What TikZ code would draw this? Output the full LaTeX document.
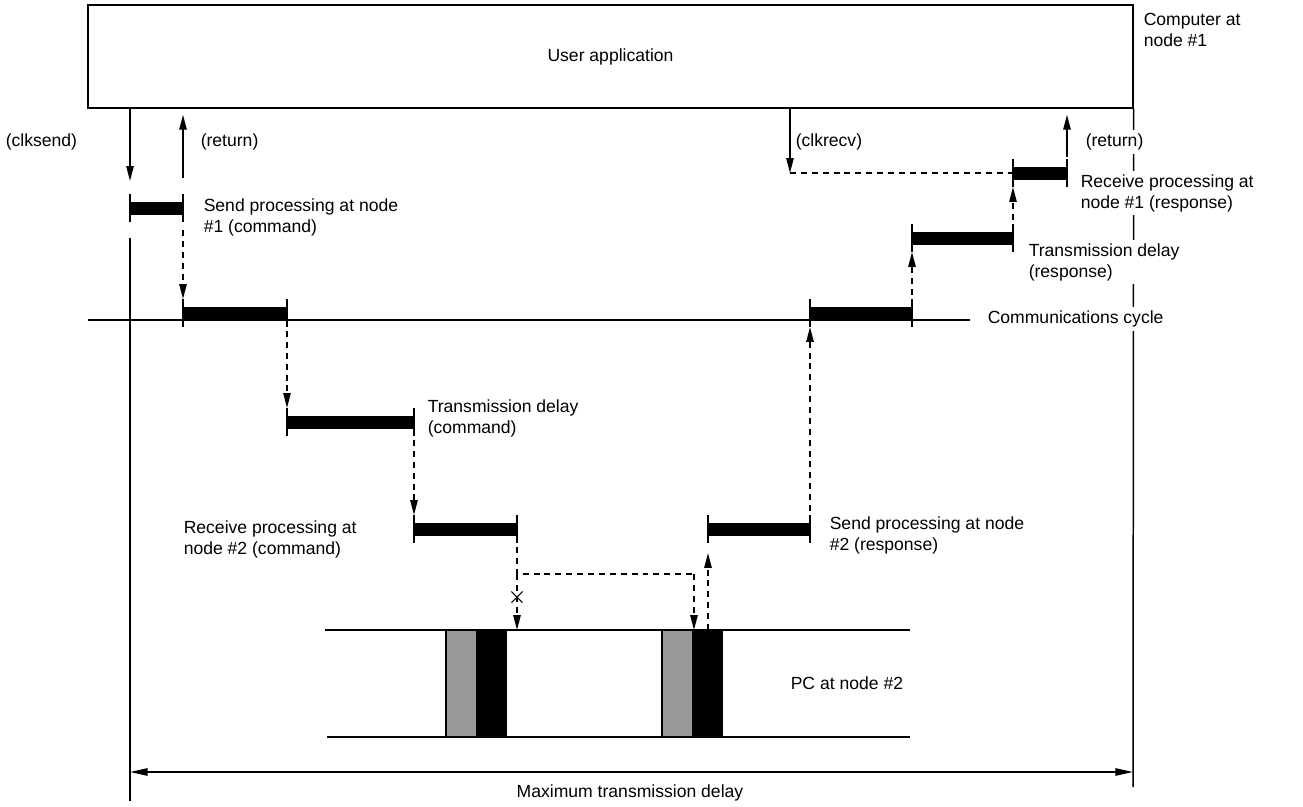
\documentclass[tikz,border=0pt]{standalone}
\usepackage{fontspec}
\setmainfont{Liberation Sans}
\usetikzlibrary{arrows.meta,calc,shapes.misc}
\tikzset{
  arr/.style={-{Triangle[length=8.5pt,width=4.2pt]}},
  dsh/.style={dash pattern=on 3.4pt off 2.8pt},
  lbl/.style={anchor=west,align=left,inner sep=2pt,fill=white},
  tick/.style={line width=0.7pt},
}
\begin{document}
\begin{tikzpicture}[x=0.02cm,y=-0.02cm,line width=0.85pt,font=\fontsize{10}{12}\selectfont]
  \useasboundingbox (0,0) rectangle (1303,806);
  \node[draw,minimum width=20.9cm,minimum height=2.06cm,inner sep=0pt] (app) at (610.5,56.5) {User application};
  \coordinate (lbot) at (130,801);
  \coordinate (rbot) at (1133,787);
  \coordinate (cL) at (88,320);
  \coordinate (cR) at (970,320);
  \coordinate (pcTL) at (325,630);
  \coordinate (pcTR) at (910,630);
  \coordinate (pcBL) at (327,737);
  \coordinate (pcBR) at (910,737);
  \coordinate (fork) at (517,574);
  \coordinate (join) at (694,574);
  \coordinate (recv) at (790,173);
  \coordinate (dimL) at (130,772);
  \coordinate (dimR) at (1133,772);
  \foreach \b/\xa/\xb/\y in {b1/130/183/208,b2/183/287/313,b3/287/414/422,b4/414/517/529,
                              b5/708/810/529,b6/810/912/313,b7/912/1013/238,b8/1013/1067/173} {
    \coordinate (\b-l) at (\xa,\y);
    \coordinate (\b-r) at (\xb,\y);
    \fill (\xa,\y-6.5) rectangle (\xb,\y+6.5);
    \draw[tick] (\xa,\y-14) -- (\xa,\y+14) (\xb,\y-14) -- (\xb,\y+14);
  }
  \draw (app.south east) -- (rbot);
  \draw (cL) -- (cR);
  \draw (pcTL) -- (pcTR) (pcBL) -- (pcBR);
  \foreach \xg in {446,662} {
    \filldraw[fill=black!40,line width=0.6pt] (\xg,630) rectangle ++(31,107);
    \fill (\xg+31,630) rectangle ++(30,107);
  }
  % calls and returns at node #1
  \draw[arr] (app.south -| b1-l) -- ($(b1-l)+(0,-27)$);
  \draw ($(b1-l)+(0,30)$) -- (lbot);
  \draw[arr] ($(b1-r)+(0,-30)$) -- ($(app.south -| b1-r)+(0,6)$);
  \draw[arr] (app.south -| recv) -- (recv);
  \draw[dsh] (recv) -- (b8-l);
  \draw[arr] ($(b8-r)+(0,-16)$) -- ($(app.south -| b8-r)+(0,6)$);
  % command
  \draw[dsh,arr] ($(b1-r)+(0,22)$) -- ($(b2-l)+(0,-14)$);
  \draw[dsh,arr] ($(b2-r)+(0,18)$) -- ($(b3-l)+(0,-14)$);
  \draw[dsh,arr] ($(b3-r)+(0,18)$) -- ($(b4-l)+(0,-14)$);
  \draw[dsh] ($(b4-r)+(0,18)$) -- (fork) -- (join);
  \draw[dsh,arr] (fork) -- (fork |- pcTL);
  \draw[dsh,arr] (join) -- (join |- pcTL);
  \node[cross out,draw,line width=0.6pt,minimum size=0.2cm,inner sep=0pt] (stop) at (517,597) {};
  % response
  \draw[dsh,arr] (b5-l |- pcTL) -- ($(b5-l)+(0,24)$);
  \draw[dsh,arr] ($(b5-r)+(0,-18)$) -- ($(b6-l)+(0,14)$);
  \draw[dsh,arr] ($(b6-r)+(0,-18)$) -- ($(b7-l)+(0,14)$);
  \draw[dsh,arr] ($(b7-r)+(0,-18)$) -- ($(b8-l)+(0,14)$);
  \draw[{Triangle[length=10pt,width=4.2pt]}-{Triangle[length=10pt,width=4.2pt]}] (dimL) -- (dimR);
  % labels
  \node[lbl] (host) at (1139.5,30) {Computer at\\node \#1};
  \node[lbl] (clksend) at (1.5,142) {(clksend)};
  \node[lbl] (ret1) at (196.5,142) {(return)};
  \node[lbl] (clkrecv) at (791.5,142) {(clkrecv)};
  \node[lbl] (ret2) at (1081.5,142) {(return)};
  \node[lbl] (send1) at (199.5,217) {Send processing at node\\\#1 (command)};
  \node[lbl] (rcv1) at (1076.5,193) {Receive processing at\\node \#1 (response)};
  \node[lbl] (trr) at (1024.5,262) {Transmission delay\\(response)};
  \node[lbl] (comm) at (983.5,319) {Communications cycle};
  \node[lbl] (trc) at (423.5,418) {Transmission delay\\(command)};
  \node[lbl] (rcv2) at (179.5,539) {Receive processing at\\node \#2 (command)};
  \node[lbl] (send2) at (825.5,535) {Send processing at node\\\#2 (response)};
  \node[lbl] (pc) at (786.5,683) {PC at node \#2};
  \node (maxd) at (630,793) {Maximum transmission delay};
\end{tikzpicture}
\end{document}
